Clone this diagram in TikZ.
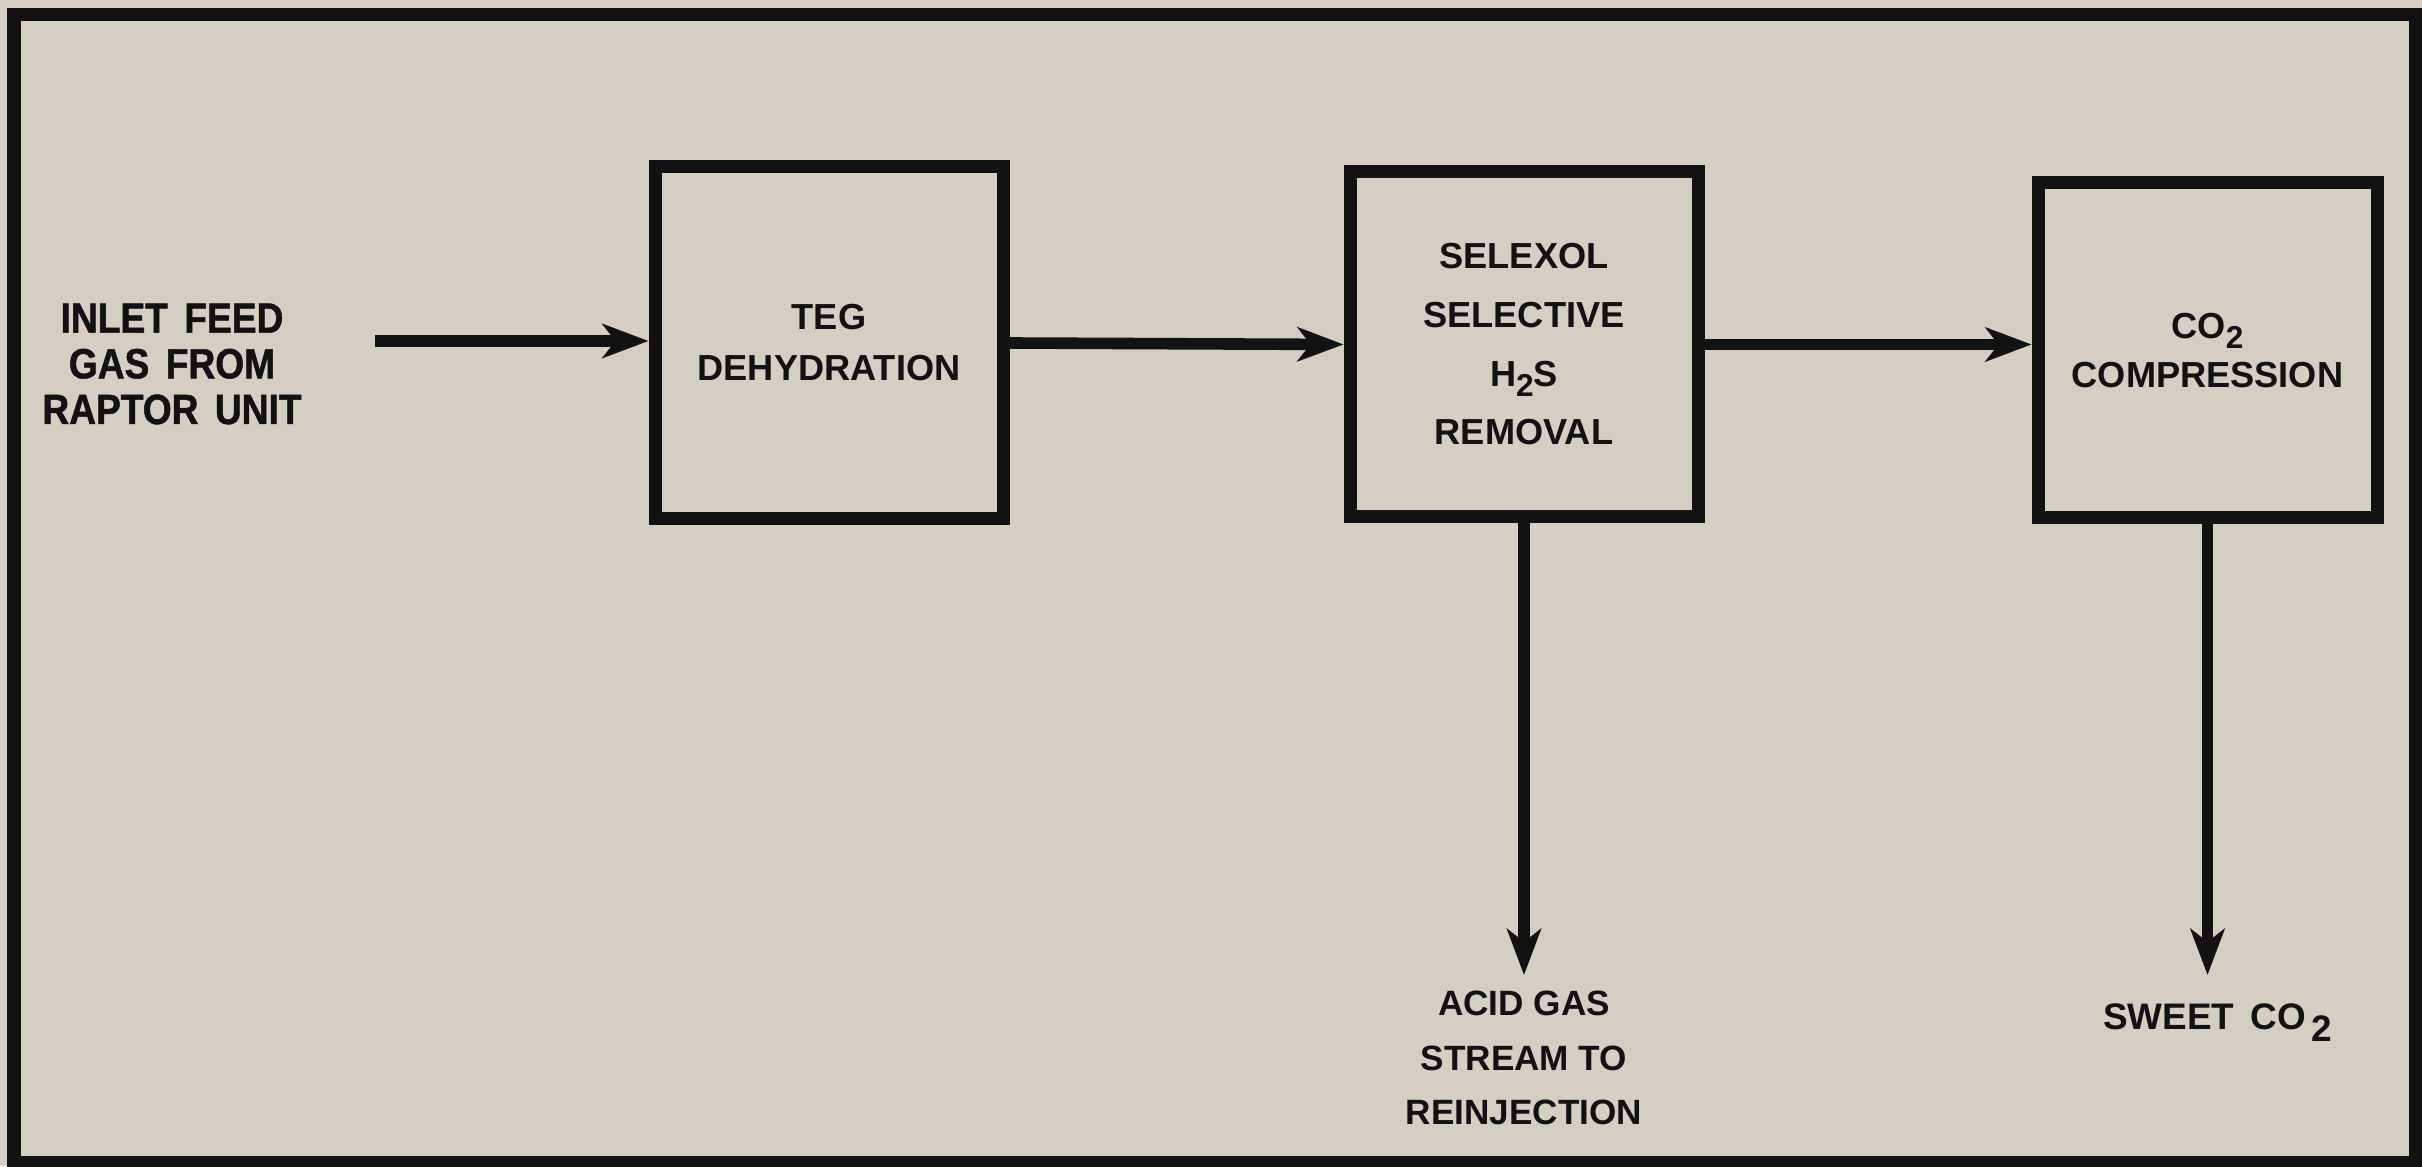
\documentclass[tikz,border=0pt]{standalone}
\usepackage{fontspec}
\setmainfont{Liberation Sans}
\newfontfamily\feedfont[FakeStretch=0.88,FakeBold=1.2,WordSpace=1.6]{Liberation Sans Bold}
\usetikzlibrary{arrows.meta,positioning}
\definecolor{ink}{HTML}{121212}
\definecolor{paper}{HTML}{D4CEC3}
\newcommand{\lowtwo}{\raisebox{-2.8pt}[0pt][0pt]{\fontsize{9}{9}\selectfont 2}}

\begin{document}
\begin{tikzpicture}[
  font=\bfseries\fontsize{10}{15}\selectfont,
  unit/.style={draw=ink,line width=3.7pt,minimum width=3.48cm,minimum height=3.45cm,
    inner sep=0pt,align=center,text=ink},
  flow/.style={draw=ink,line width=3.3pt,-{Stealth[length=4.6mm,width=3.4mm,inset=1.3mm]}},
  lbl/.style={align=center,text=ink,inner sep=0pt}
]
  \def\w{24.22}
  \def\h{11.66}
  \useasboundingbox (0,0) rectangle (\w,\h);
  \fill[paper] (0,0) rectangle (\w,\h);
  \draw[ink,line width=3.7pt] (0.14,0.04) rectangle (24.15,11.51);
  % process units
  \node[unit,minimum height=3.52cm,font=\bfseries\fontsize{10.3}{14.5}\selectfont] (teg) at (8.29,8.23) {TEG\\DEHYDRATION};
  \node[unit,font=\bfseries\fontsize{10.3}{16.7}\selectfont] (selexol) at (15.24,8.215) {SELEXOL\\SELECTIVE\\H\lowtwo S\\REMOVAL};
  \node[unit,minimum width=3.39cm,minimum height=3.35cm,font=\bfseries\fontsize{10.3}{14}\selectfont] (compr) at (22.075,8.155) {CO\lowtwo\\COMPRESSION};
  % streams
  \node[lbl,font=\feedfont\fontsize{12}{13}\selectfont] (feedtext) at (1.72,8.02) {INLET FEED\\GAS FROM\\RAPTOR UNIT};
  \coordinate (feed) at (3.75,8.25);
  \coordinate (acidtip) at (selexol.south |- 0,1.91);
  \coordinate (sweettip) at (compr.south |- 0,1.91);
  \draw[flow] (feed) -- (feed -| teg.west);
  \draw[flow] (teg.east) -- (selexol.west);
  \draw[flow] (selexol.east) -- (selexol.east -| compr.west);
  \draw[flow] (selexol.south) -- (acidtip);
  \draw[flow] (compr.south) -- (sweettip);
  \node[lbl,font=\bfseries\fontsize{10}{15.6}\selectfont,below=1.5mm of acidtip] (acid) {ACID GAS\\STREAM TO\\REINJECTION};
  \node[lbl,font=\bfseries\fontsize{10.5}{12}\selectfont,below=2.8mm of sweettip,xshift=1mm] (sweet) {SWEET\hspace{0.45em}CO\hspace{1.5pt}\raisebox{-3.5pt}{2}};
\end{tikzpicture}
\end{document}
